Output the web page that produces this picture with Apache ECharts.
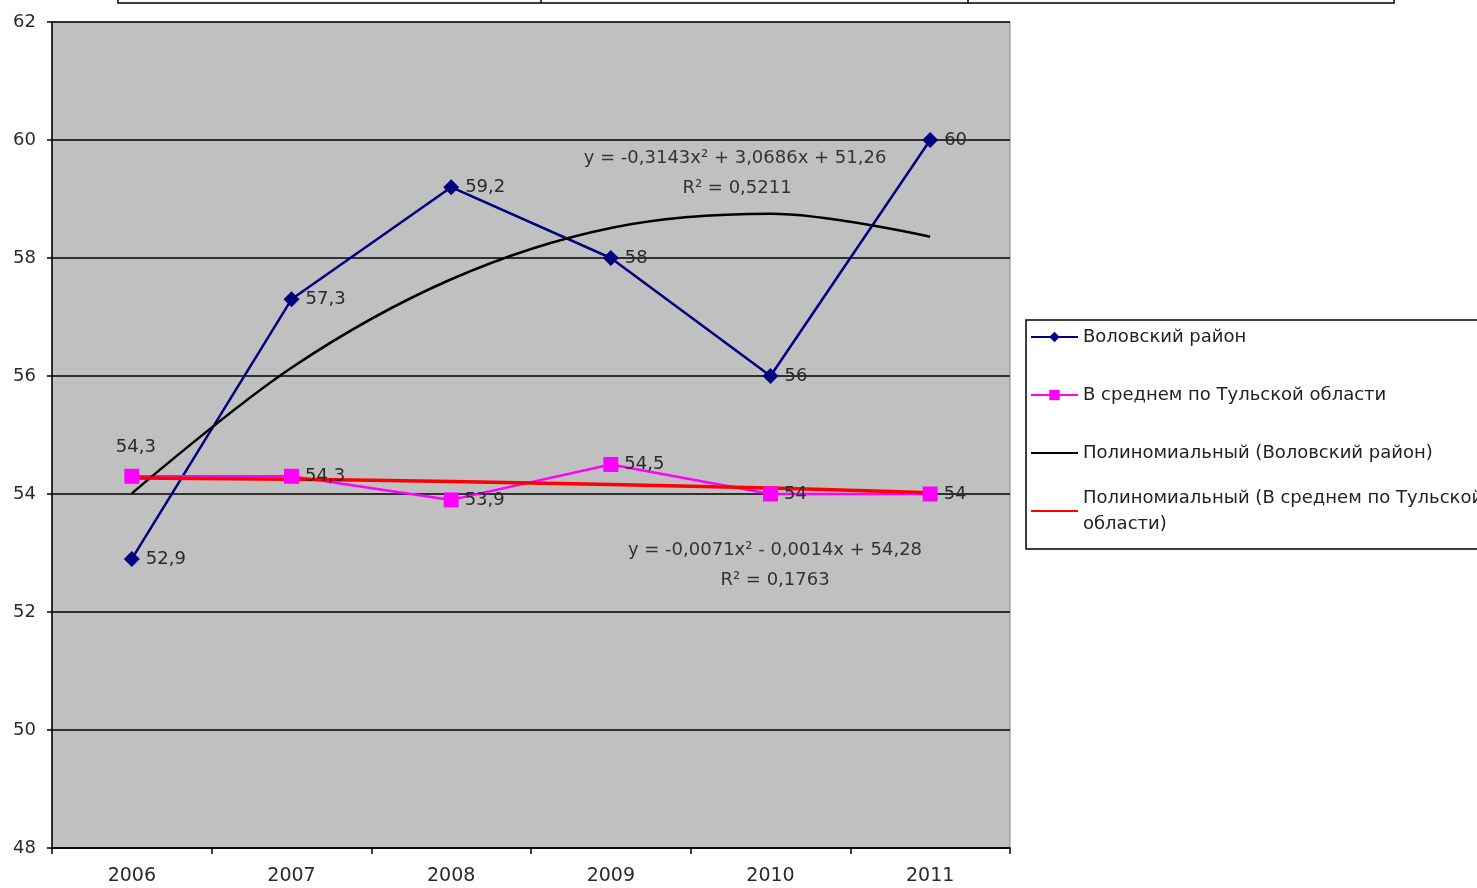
<!DOCTYPE html>
<html>
<head>
<meta charset="utf-8">
<script src="https://cdn.jsdelivr.net/npm/echarts@6/dist/echarts.min.js"></script>
<style>
  html, body { margin: 0; padding: 0; background: #fff; }
  #chart { width: 1477px; height: 888px; }
</style>
</head>
<body>
<div id="chart"></div>
<script>
// data
let years = ['2006', '2007', '2008', '2009', '2010', '2011'];
let volovo = [52.9, 57.3, 59.2, 58, 56, 60];
let tula = [54.3, 54.3, 53.9, 54.5, 54, 54];
let volovoTrend = [54.01, 56.14, 57.64, 58.51, 58.75, 58.36];
let tulaTrend = [54.27, 54.25, 54.21, 54.16, 54.1, 54.02];
let seriesNames = [
    'Воловский район',
    'В среднем по Тульской области',
    'Полиномиальный (Воловский район)',
    'Полиномиальный (В среднем по Тульской области)'
];
let eq1 = ['y = -0,3143x² + 3,0686x + 51,26', 'R² = 0,5211'];
let eq2 = ['y = -0,0071x² - 0,0014x + 54,28', 'R² = 0,1763'];

let FONT = 'DejaVu Sans';
let fmt = function(p){ return String(p.value).replace('.', ','); };

let myChart = echarts.init(document.getElementById('chart'), null, {renderer: 'canvas'});

let tulaData = tula.map(function(v, i){
    if (i === 0) return {value: v, label: {position: 'top', offset: [4, -6]}};
    return v;
});

let labelStyle = {
    show: true, position: 'right', distance: 6, formatter: fmt,
    fontFamily: FONT, fontSize: 18, color: '#2a2a2a'
};
let eqText = function(x, y, txt){
    return {type: 'text', z: 10, x: x, y: y,
        style: {text: txt, fontFamily: FONT, fontSize: 18, fill: '#333', align: 'center', verticalAlign: 'middle'}};
};
// trend lines show only a plain line in the legend
let noMark = {color: 'rgba(0,0,0,0)', borderWidth: 0};

let option = {
    animation: false,
    backgroundColor: '#fff',
    grid: {
        left: 52, top: 22, right: 467, bottom: 40,
        show: true, backgroundColor: '#c0c0c0', borderColor: '#8a8a8a', borderWidth: 1
    },
    xAxis: {
        type: 'category', data: years, boundaryGap: true,
        axisLine: {lineStyle: {color: '#000', width: 1.5}},
        axisTick: {show: true, length: 6, lineStyle: {color: '#000', width: 1.5}},
        axisLabel: {fontFamily: FONT, fontSize: 19, color: '#2a2a2a', margin: 19}
    },
    yAxis: {
        type: 'value', min: 48, max: 62, interval: 2,
        axisLine: {show: true, lineStyle: {color: '#000', width: 1.5}},
        axisTick: {show: true, length: 5, lineStyle: {color: '#000', width: 1.5}},
        axisLabel: {fontFamily: FONT, fontSize: 18, color: '#2a2a2a', margin: 16},
        splitLine: {show: true, lineStyle: {color: '#000', width: 1.5}}
    },
    legend: [{
        data: [seriesNames[0], seriesNames[1], {name: seriesNames[2], itemStyle: noMark}],
        orient: 'vertical', left: 1030, top: 327, padding: 0,
        itemWidth: 47, itemHeight: 13, itemGap: 38,
        textStyle: {fontFamily: FONT, fontSize: 18, color: '#222', lineHeight: 20}
    }, {
        data: [{
            name: seriesNames[3], itemStyle: noMark,
            textStyle: {padding: [26, 0, 0, 0], lineHeight: 26}
        }],
        formatter: function(){ return 'Полиномиальный (В среднем по Тульской\nобласти)'; },
        orient: 'vertical', left: 1030, top: 472, padding: 0,
        itemWidth: 47, itemHeight: 13,
        textStyle: {fontFamily: FONT, fontSize: 18, color: '#222', lineHeight: 26}
    }],
    graphic: [
        {type: 'rect', z: 1, shape: {x: 1026, y: 320, width: 470, height: 229},
         style: {fill: '#fff', stroke: '#000', lineWidth: 1.5}},
        {type: 'rect', z: 1, shape: {x: 118, y: -10, width: 1276, height: 13},
         style: {fill: 'none', stroke: '#000', lineWidth: 1.5}},
        {type: 'line', z: 1, shape: {x1: 541, y1: 0, x2: 541, y2: 3}, style: {stroke: '#000', lineWidth: 1.5}},
        {type: 'line', z: 1, shape: {x1: 968, y1: 0, x2: 968, y2: 3}, style: {stroke: '#000', lineWidth: 1.5}},
        eqText(735, 158, eq1[0]),
        eqText(737, 188, eq1[1]),
        eqText(775, 550, eq2[0]),
        eqText(775, 580, eq2[1])
    ],
    series: [{
        name: seriesNames[0], type: 'line', data: volovo,
        symbol: 'diamond', symbolSize: 16,
        lineStyle: {color: '#000080', width: 2.5},
        itemStyle: {color: '#000080'},
        label: labelStyle
    }, {
        name: seriesNames[1], type: 'line', data: tulaData,
        symbol: 'rect', symbolSize: 15,
        lineStyle: {color: '#ff00ff', width: 2.5},
        itemStyle: {color: '#ff00ff'},
        label: labelStyle
    }, {
        name: seriesNames[2], type: 'line', data: volovoTrend,
        smooth: 0.35, showSymbol: false, symbol: 'none',
        lineStyle: {color: '#000', width: 2.5},
        itemStyle: {color: '#000'}
    }, {
        name: seriesNames[3], type: 'line', data: tulaTrend,
        smooth: 0.35, showSymbol: false, symbol: 'none',
        lineStyle: {color: '#ff0000', width: 3.5},
        itemStyle: {color: '#ff0000'}
    }]
};
myChart.setOption(option);
</script>
</body>
</html>
